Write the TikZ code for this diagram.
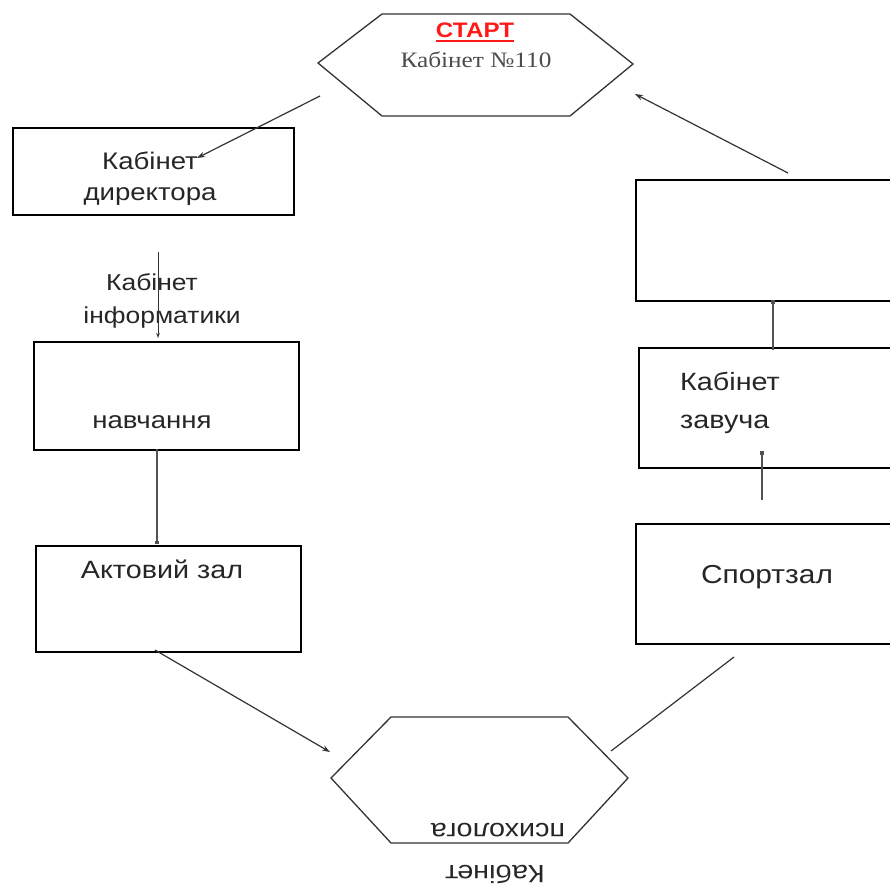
\documentclass[tikz,border=0pt]{standalone}
\usepackage{fontspec}
\setmainfont{Liberation Sans}[FakeStretch=1.15]
\newfontfamily\cabserif{Liberation Serif}[FakeStretch=1.15]
\usetikzlibrary{arrows.meta}

\definecolor{linegray}{HTML}{333333}
\definecolor{txtgray}{HTML}{262626}
\definecolor{startred}{HTML}{FF1A1A}

\tikzset{
  room/.style={draw=black, line width=1.6pt, inner sep=0pt, anchor=north west},
  lbl/.style={text=txtgray, inner sep=0pt, anchor=base},
  link/.style={draw=linegray, line width=1.2pt, -{Stealth[length=8pt,width=5.5pt]}},
  shortlink/.style={draw=linegray!85, line width=2pt, -{Square[length=3.5pt,width=4.5pt]}},
  hexa/.style={draw=linegray, line width=1.3pt},
}

\begin{document}
\begin{tikzpicture}[x=1pt, y=-1pt]

    \useasboundingbox (0,0) rectangle (890,884);

    % Hexagons (start and psychologist)
    \draw[hexa] (318,63) -- (382,14) -- (570,14) -- (633,64) -- (570,116) -- (382,116) -- cycle;
    \draw[hexa] (331,778) -- (391,717) -- (568,717) -- (628,778) -- (568,843) -- (391,843) -- cycle;

    % Rooms
    \foreach \nm/\xa/\ya/\xb/\yb in {dir/12/127/293/214, nav/33/341/298/449, akt/35/545/300/651,
                                     sport/635/523/893/643, zav/638/347/893/467, empty/635/179/893/300} {
        \node[room, minimum width={(\xb-\xa)*1pt}, minimum height={(\yb-\ya)*1pt}]
            (\nm) at (\xa,\ya) {};
    }

    % Start label
    \node[lbl, text=startred, font=\fontsize{21}{24}\selectfont\bfseries] (start) at (475,37) {СТАРТ};
    \draw[startred, line width=1.5pt] ([yshift=-4pt]start.base west) -- ([yshift=-4pt]start.base east);
    \node[lbl, text=black!70, font=\cabserif\fontsize{22}{25}\selectfont] (room110) at (476,67) {Кабінет №110};

    % Room labels
    \node[lbl, font=\fontsize{24}{28}\selectfont] (dirA) at (150,169) {Кабінет};
    \node[lbl, font=\fontsize{24}{28}\selectfont] (dirB) at (150,200) {директора};
    \node[lbl, font=\fontsize{23}{28}\selectfont] (infA) at (152,290) {Кабінет};
    \node[lbl, font=\fontsize{23}{28}\selectfont] (infB) at (162,323) {інформатики};
    \node[lbl, font=\fontsize{24}{28}\selectfont] (navA) at (152,428) {навчання};
    \node[lbl, font=\fontsize{25}{30}\selectfont] (aktA) at (162,578) {Актовий зал};
    \node[lbl, font=\fontsize{26}{30}\selectfont] (sportA) at (767,583) {Спортзал};
    \node[lbl, anchor=base west, font=\fontsize{25}{30}\selectfont] (zavA) at (680,390) {Кабінет};
    \node[lbl, anchor=base west, font=\fontsize{25}{30}\selectfont] (zavB) at (680,428) {завуча};
    \node[lbl, rotate=180, font=\fontsize{25}{30}\selectfont] (psyB) at (498,823) {психолога};
    \node[lbl, rotate=180, font=\fontsize{25}{30}\selectfont] (psyA) at (495,865) {Кабінет};

    % Free ends of the connectors
    \coordinate (c1a) at (320,96);   \coordinate (c1b) at (197,158);
    \coordinate (c2a) at (158,252);  \coordinate (c2b) at (158,338);
    \coordinate (c3a) at (157,449);  \coordinate (c3b) at (157,544);
    \coordinate (c4a) at (155,650);  \coordinate (c4b) at (330,752);
    \coordinate (c5a) at (611,751);  \coordinate (c5b) at (734,657);
    \coordinate (c6a) at (762,500);  \coordinate (c6b) at (762,451);
    \coordinate (c7a) at (773,350);  \coordinate (c7b) at (773,300);
    \coordinate (c8a) at (788,173);  \coordinate (c8b) at (635,94);

    % Connectors
    \draw[link] (c1a) -- (c1b);
    \draw[link, line width=1pt, -{Stealth[length=5pt,width=3.5pt]}] (c2a) -- (c2b);
    \draw[shortlink] (c3a) -- (c3b);
    \draw[link] (c4a) -- (c4b);
    \draw[draw=linegray, line width=1.2pt] (c5a) -- (c5b);
    \draw[shortlink] (c6a) -- (c6b);
    \draw[shortlink] (c7a) -- (c7b);
    \draw[link] (c8a) -- (c8b);

\end{tikzpicture}
\end{document}
